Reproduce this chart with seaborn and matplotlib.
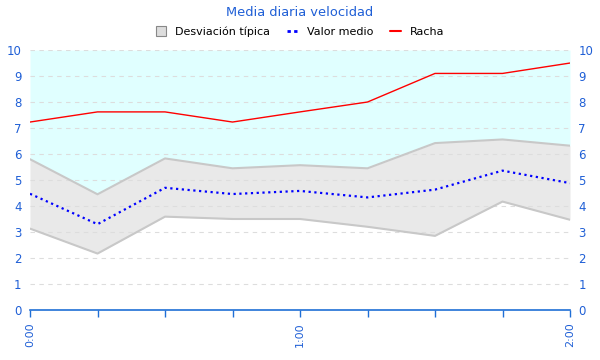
import numpy as np
import pandas as pd
import seaborn as sns
import matplotlib.pyplot as plt
from matplotlib.lines import Line2D

# minutes from 0:00, one sample every 15 minutes
minutes = [0, 15, 30, 45, 60, 75, 90, 105, 120]
racha = [7.23, 7.62, 7.62, 7.23, 7.62, 8.0, 9.1, 9.1, 9.5]
media = [4.47, 3.3, 4.7, 4.46, 4.58, 4.33, 4.63, 5.36, 4.88]
desv_sup = [5.8, 4.45, 5.83, 5.45, 5.57, 5.45, 6.42, 6.56, 6.32]
desv_inf = [3.13, 2.17, 3.59, 3.5, 3.5, 3.2, 2.85, 4.17, 3.47]
tick_labels = {0: "0:00", 60: "1:00", 120: "2:00"}

BLUE_TXT = "#1f5fd6"

df = pd.DataFrame({"min": minutes, "racha": racha, "media": media,
                   "sup": desv_sup, "inf": desv_inf})

sns.set_style("white")
plt.rcParams["font.family"] = ["DejaVu Sans"]

fig = plt.figure(figsize=(6, 3.6), dpi=100)
ax = fig.add_axes([0.05, 0.139, 0.9, 0.722])

# background areas
ax.fill_between(df["min"], df["sup"], 10, color="#e0ffff", lw=0, zorder=0)
ax.fill_between(df["min"], df["inf"], df["sup"], color="#e9e9e9", lw=0, zorder=1)
ax.plot(df["min"], df["sup"], color="#c8c8c8", lw=1.5, zorder=2)
ax.plot(df["min"], df["inf"], color="#c8c8c8", lw=1.5, zorder=2)

for y in range(1, 11):
    ax.axhline(y, color="#dddddd", lw=0.8, ls=(0, (4, 4)), zorder=1.5)

sns.lineplot(data=df, x="min", y="media", ax=ax, color="blue", lw=1.6,
             linestyle=(0, (1, 1.6)), zorder=3)
sns.lineplot(data=df, x="min", y="racha", ax=ax, color="red", lw=1.0, zorder=3)

ax.set_xlim(0, 120)
ax.set_ylim(0, 10)
ax.set_xlabel("")
ax.set_ylabel("")
ax.set_xticks(minutes)
ax.set_xticklabels([tick_labels.get(m, "") for m in minutes], rotation=90,
                   color=BLUE_TXT, fontsize=8)
ax.set_yticks(range(0, 11))
ax.tick_params(axis="y", which="both", left=False, right=False, length=0,
               labelleft=True, labelright=True, labelcolor=BLUE_TXT,
               labelsize=8.5, pad=6)
ax.tick_params(axis="x", bottom=True, length=5, width=1, color="#1f6fd6",
               pad=4)
for side in ["left", "right", "top"]:
    ax.spines[side].set_visible(False)
ax.spines["bottom"].set_color("#1f6fd6")
ax.spines["bottom"].set_linewidth(1.2)

fig.text(0.5, 0.966, "Media diaria velocidad", ha="center", va="center",
         color=BLUE_TXT, fontsize=9.4)

handles = [
    Line2D([], [], marker="s", markersize=7, markerfacecolor="#dddddd",
           markeredgecolor="#888888", markeredgewidth=0.8, linestyle="None",
           label="Desviación típica"),
    Line2D([], [], color="blue", lw=2, linestyle=(0, (1.2, 1.2)), label="Valor medio"),
    Line2D([], [], color="red", lw=1.5, label="Racha"),
]
leg = fig.legend(handles=handles, loc="center", bbox_to_anchor=(0.5, 0.912), ncol=3,
                 frameon=False, fontsize=8, handlelength=1.0, handleheight=0.9,
                 columnspacing=1.5, handletextpad=0.8)
for t in leg.get_texts():
    t.set_color("black")

fig.savefig("out.png", dpi=100)
